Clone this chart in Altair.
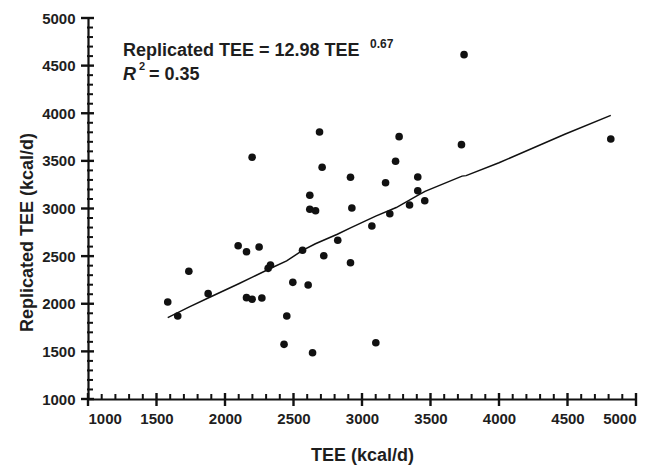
import altair as alt
import pandas as pd

# Observed points (TEE, Replicated TEE), kcal/d
tee = [1582, 1655, 1736, 1877, 2096, 2157, 2157, 2198, 2198, 2249, 2269, 2315, 2332,
       2431, 2451, 2495, 2566, 2607, 2619, 2619, 2661, 2639, 2690, 2709, 2721, 2823,
       2916, 2926, 2916, 3072, 3101, 3172, 3203, 3245, 3271, 3347, 3407, 3407, 3458,
       3726, 3745, 4816]
rep = [2018, 1871, 2341, 2106, 2609, 2546, 2064, 2047, 3538, 2596, 2060, 2372, 2407,
       1574, 1871, 2225, 2561, 2197, 3139, 2992, 2977, 1486, 3803, 3433, 2504, 2666,
       3328, 3005, 2431, 2816, 1591, 3271, 2945, 3496, 3754, 3037, 3331, 3187, 3082,
       3670, 4615, 3730]

# Fitted curve as drawn
fit_tee = [1582, 1736, 1877, 2100, 2200, 2330, 2450, 2566, 2660, 2820, 2920, 3100,
           3250, 3410, 3460, 3730, 3760, 4000, 4480, 4816]
fit_rep = [1854, 1965, 2060, 2210, 2280, 2370, 2450, 2560, 2630, 2730, 2800, 2920,
           3010, 3140, 3180, 3340, 3345, 3480, 3779, 3978]

x_major = list(range(1000, 5001, 500))
x_minor = [v for v in range(1000, 5001, 100) if v % 500 != 0]
y_major = list(range(1000, 5001, 500))
y_minor = [v for v in range(1000, 5001, 100) if v % 500 != 0]

W, H = 548, 381
FONT = "'Liberation Sans', Arial, sans-serif"
INK = "#111111"
TXT = "#1e1e1e"

pts_df = pd.DataFrame({"tee": tee, "rep": rep})
fit_df = pd.DataFrame({"tee": fit_tee, "rep": fit_rep})
xmaj_df = pd.DataFrame({"v": x_major, "base": [1000] * len(x_major)})
xmin_df = pd.DataFrame({"v": x_minor})
ymaj_df = pd.DataFrame({"v": y_major})
ymin_df = pd.DataFrame({"v": y_minor})
dummy = pd.DataFrame({"a": [0]})

xs = alt.Scale(domain=[1000, 5000], nice=False, zero=False)
ys = alt.Scale(domain=[1000, 5000], nice=False, zero=False)

major_x_axis = alt.Axis(values=x_major, format="d", title="TEE (kcal/d)", tickSize=7,
                        tickOpacity=0, domainColor=INK, domainWidth=2.2,
                        grid=False, labelFont=FONT, labelFontWeight=700,
                        labelFontSize=15, labelColor=TXT, labelPadding=5,
                        titleFont=FONT, titleFontWeight=700, titleFontSize=18,
                        titleColor=TXT, titlePadding=20)
major_y_axis = alt.Axis(values=y_major, format="d", title="Replicated TEE (kcal/d)",
                        tickSize=7, tickOpacity=0, domainColor=INK,
                        domainWidth=2.2, grid=False, labelFont=FONT,
                        labelFontWeight=700, labelFontSize=15, labelColor=TXT,
                        labelPadding=6, titleFont=FONT, titleFontWeight=700,
                        titleFontSize=18, titleColor=TXT, titleX=-52, titleY=214)

points = alt.Chart(pts_df).mark_circle(size=58, color=INK, opacity=1).encode(
    x=alt.X("tee:Q", scale=xs, axis=major_x_axis),
    y=alt.Y("rep:Q", scale=ys, axis=major_y_axis),
)

fit = alt.Chart(fit_df).mark_line(color=INK, strokeWidth=1.5).encode(
    x=alt.X("tee:Q", scale=xs),
    y=alt.Y("rep:Q", scale=ys),
)

# axis ticks drawn as short rules: major ones cross the axis, minor ones point inward
xmaj = alt.Chart(xmaj_df).mark_rule(color=INK, strokeWidth=2.4).encode(
    x=alt.X("v:Q", scale=xs), y=alt.value(H - 6), y2=alt.value(H + 7))
xmin = alt.Chart(xmin_df).mark_rule(color=INK, strokeWidth=2).encode(
    x=alt.X("v:Q", scale=xs), y=alt.value(H + 1), y2=alt.value(H - 5))
ymaj = alt.Chart(ymaj_df).mark_rule(color=INK, strokeWidth=2.4).encode(
    y=alt.Y("v:Q", scale=ys), x=alt.value(-7), x2=alt.value(6))
ymin = alt.Chart(ymin_df).mark_rule(color=INK, strokeWidth=2).encode(
    y=alt.Y("v:Q", scale=ys), x=alt.value(-1), x2=alt.value(5))

def label(txt, x, y, size=18, style="normal"):
    return alt.Chart(dummy).mark_text(
        text=txt, font=FONT, fontWeight="bold", fontSize=size, fontStyle=style,
        color=TXT, align="left", baseline="alphabetic",
    ).encode(x=alt.value(x), y=alt.value(y))

ann = [
    label("Replicated TEE = 12.98 TEE", 35, 38, 18),
    label("0.67", 282, 30, 12),
    label("R", 35, 62, 18, "italic"),
    label("2", 51, 52, 11),
    label("= 0.35", 61, 62, 18),
]

chart = alt.layer(points, fit, xmaj, xmin, ymaj, ymin, *ann).properties(
    width=W, height=H, autosize="none",
    padding={"left": 80, "top": 10, "right": 24, "bottom": 70},
    background="white",
).configure_view(stroke=None)

chart.save("out.html", embed_options={"renderer": "svg", "actions": False})
